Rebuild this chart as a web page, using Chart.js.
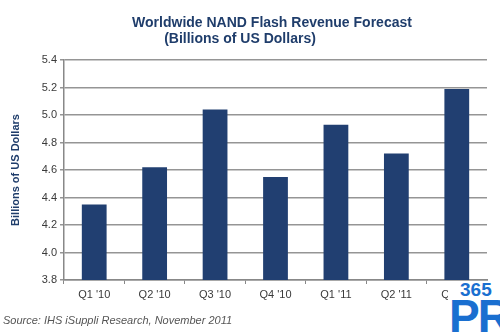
<!DOCTYPE html>
<html>
<head>
<meta charset="utf-8">
<script src="https://cdn.jsdelivr.net/npm/chart.js@4"></script>
<style>
  body { margin: 0; background: #fff; font-family: "Liberation Sans", Arial, sans-serif; }
  .wrap { position: relative; width: 500px; height: 332px; }
  .title { position: absolute; top: 14px; left: 0; width: 544px; text-align: center;
           color: #1f3d6b; font-weight: bold; font-size: 14px; line-height: 16px; }
  .title .sub { display: block; width: 480px; }
  .source { position: absolute; left: 3px; top: 314px; font-size: 11px; font-style: italic; color: #555; }
  .logo { position: absolute; left: 448px; top: 281px; width: 52px; height: 51px; background: #fff; overflow: hidden; }
  .logo .n { position: absolute; left: 12px; top: -2px; font-size: 19px; font-weight: bold; color: #1a6fd0; }
  .logo .pr { position: absolute; left: 1px; top: 8px; font-size: 46px; font-weight: bold; color: #1a6fd0; letter-spacing: -2px; }
</style>
</head>
<body>
<div class="wrap">
  <canvas id="chart" width="500" height="332"></canvas>
  <div class="title">Worldwide NAND Flash Revenue Forecast<span class="sub">(Billions of US Dollars)</span></div>
  <div class="source">Source: IHS iSuppli Research, November 2011</div>
  <div class="logo"><span class="n">365</span><span class="pr">PR</span></div>
</div>
<script>
const quarters = ["Q1 '10", "Q2 '10", "Q3 '10", "Q4 '10", "Q1 '11", "Q2 '11", "Q3 '11"];
const revenue = [4.35, 4.62, 5.04, 4.55, 4.93, 4.72, 5.19];
const yMin = 3.8;
const yMax = 5.4;

const ctx = document.getElementById('chart').getContext('2d');
new Chart(ctx, {
    type: 'bar',
    data: {
        labels: quarters,
        datasets: [
            {
                label: 'Revenue',
                data: revenue,
                backgroundColor: '#213f71',
                barPercentage: 0.41,
                categoryPercentage: 1,
            },
        ],
    },
    options: {
        responsive: false,
        animation: false,
        layout: { padding: { top: 60, right: 13, left: 0, bottom: 0 } },
        plugins: {
            legend: { display: false },
            tooltip: { enabled: false },
        },
        scales: {
            x: {
                grid: { display: true, drawOnChartArea: false, drawTicks: true, tickLength: 4, color: '#888', offset: true },
                border: { display: true, color: '#888', width: 1.5 },
                ticks: { color: '#3a3a3a', font: { family: 'Liberation Sans', size: 11 }, padding: 4, maxRotation: 0 },
                afterFit: (scale) => { scale.height = 52; },
            },
            y: {
                min: yMin,
                max: yMax,
                grid: { color: '#959595', lineWidth: 1.5, tickLength: 4 },
                border: { display: true, color: '#888', width: 1.5 },
                ticks: {
                    stepSize: 0.2,
                    color: '#3a3a3a',
                    padding: 3,
                    font: { family: 'Liberation Sans', size: 11 },
                    callback: (v) => v.toFixed(1),
                },
                title: {
                    display: true,
                    text: 'Billions of US Dollars',
                    color: '#1f3d6b',
                    font: { family: 'Liberation Sans', size: 11, weight: 'bold' },
                    padding: { top: 9, bottom: 4 },
                },
                afterFit: (scale) => { scale.width = 64; },
            },
        },
    },
});
</script>
</body>
</html>
